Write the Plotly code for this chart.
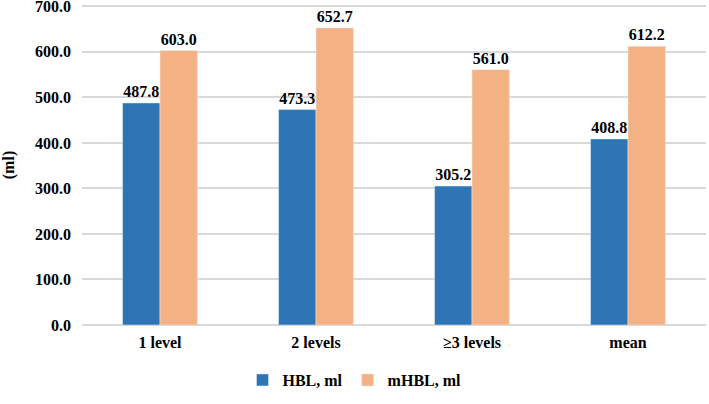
import plotly.graph_objects as go

categories = ["1 level", "2 levels", "≥3 levels", "mean"]
hbl = [487.8, 473.3, 305.2, 408.8]
mhbl = [603.0, 652.7, 561.0, 612.2]
series_names = ["HBL, ml", "mHBL, ml"]
y_ticks = [0, 100, 200, 300, 400, 500, 600, 700]

FAM = "Times New Roman"
font = dict(family=FAM, size=16, color="#000000", weight="bold")

fig = go.Figure()
fig.add_trace(go.Bar(x=categories, y=hbl, name=series_names[0], marker_color="#2E75B6",
                     text=[f"{v:.1f}" for v in hbl], textposition="outside", cliponaxis=False,
                     textfont=font))
fig.add_trace(go.Bar(x=categories, y=mhbl, name=series_names[1], marker_color="#F4B183",
                     text=[f"{v:.1f}" for v in mhbl], textposition="outside", cliponaxis=False,
                     textfont=font))

fig.update_layout(
    width=709, height=404,
    margin=dict(l=82, r=3, t=5, b=79, autoexpand=False),
    paper_bgcolor="white", plot_bgcolor="white",
    font=font,
    barmode="group", bargap=0.52, bargroupgap=0,
    showlegend=True,
    legend=dict(orientation="h", xref="container", x=0.5, xanchor="center",
                y=-0.172, yanchor="middle", font=font, itemwidth=30,
                tracegroupgap=0, entrywidth=0),
    xaxis=dict(showgrid=False, showline=False, ticks="", tickfont=font, automargin=False,
               ticklabelstandoff=6),
    yaxis=dict(range=[0, 703], tickvals=y_ticks, ticktext=[f"{v:.1f}" for v in y_ticks],
               tickfont=font, automargin=False, ticklabeloverflow="allow",
               showgrid=True, gridcolor="#D9D9D9", gridwidth=1.5, zeroline=True,
               zerolinecolor="#D9D9D9", zerolinewidth=1.5, showline=False,
               title=dict(text="(ml)", standoff=16, font=font), ticklabelstandoff=10),
)
fig.write_html("out.html", config={"displayModeBar": False},
               post_script="document.body.style.margin='0';")
